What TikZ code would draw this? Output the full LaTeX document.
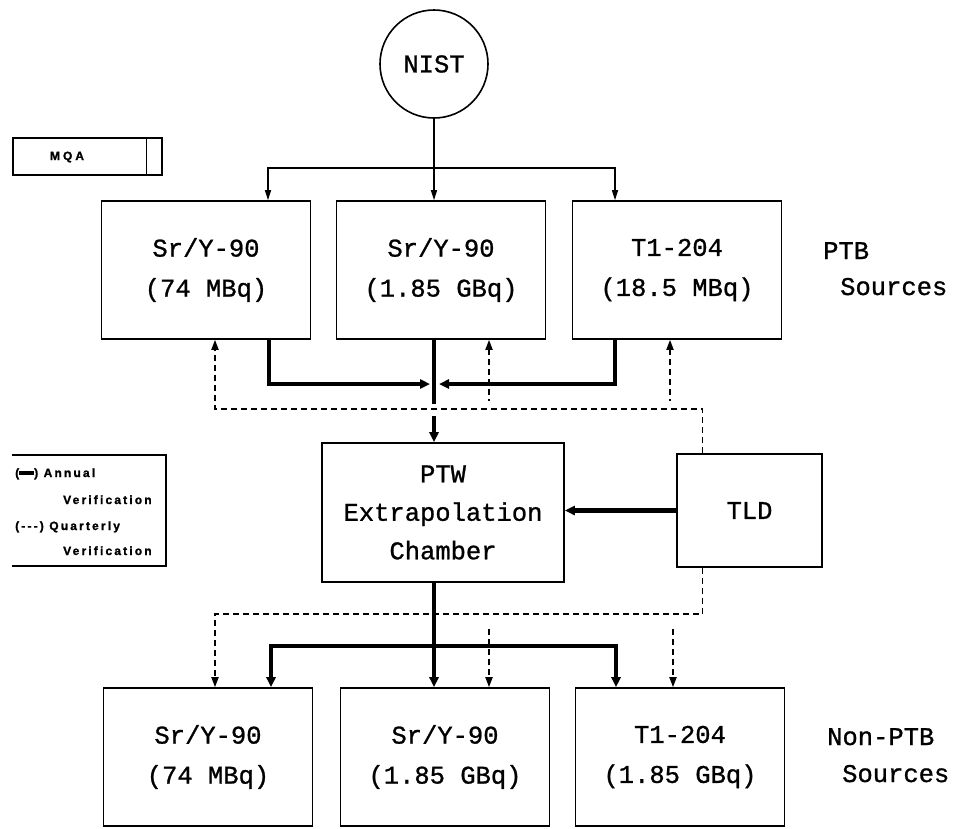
\documentclass[tikz,border=0pt]{standalone}
\usepackage{fontspec}
\newfontfamily\boxfont[FakeBold=1]{Liberation Mono}
\newfontfamily\keyfont[LetterSpace=18,FakeBold=1.5]{Liberation Sans}
\usetikzlibrary{arrows.meta,positioning}

\begin{document}
\begin{tikzpicture}[
    x=1pt, y=-1pt,
    srcbox/.style={
        draw=black,
        line width=1.6pt,
        minimum width=209pt,
        minimum height=138pt,
        align=center,
        font=\boxfont\fontsize{25.5}{40}\selectfont},
    sidelabel/.style={
        anchor=base west,
        inner sep=0pt,
        font=\boxfont\fontsize{25.5}{40}\selectfont},
    keytext/.style={
        anchor=base west,
        inner sep=0pt,
        font=\keyfont\bfseries\fontsize{12}{12}\selectfont},
    feed/.style={line width=1.3pt, >={Triangle[length=10pt,width=6pt]}},
    annual/.style={line width=4.2pt, >={Triangle[length=10pt,width=9pt]}},
    quarterly/.style={line width=1.8pt, dash pattern=on 6pt off 4pt,
        >={Triangle[length=10pt,width=7pt]}}
    ]
    \useasboundingbox (0,0) rectangle (957,828);

    \node[srcbox, circle, minimum size=108pt] (nist) at (434,64) {NIST};

    \foreach \n/\x/\y/\txt in {% name/x/y/text
        b1/206/270/{Sr/Y-90\\(74 MBq)},
        b2/441/270/{Sr/Y-90\\(1.85 GBq)},
        b3/677/270/{T1-204\\(18.5 MBq)},
        nb1/208/757/{Sr/Y-90\\(74 MBq)},
        nb2/445/757/{Sr/Y-90\\(1.85 GBq)},
        nb3/680/757/{T1-204\\(1.85 GBq)}}
        \node[srcbox] (\n) at (\x,\y) {\txt};

    \node[srcbox, minimum width=242pt, minimum height=139pt,
        font=\boxfont\fontsize{25.5}{38.5}\selectfont] (ptw) at (443,512.5)
        {PTW\\Extrapolation\\Chamber};
    \node[srcbox, minimum width=145pt, minimum height=113pt] (tld) at (749.5,510.5) {TLD};

    \node[sidelabel] (ptb1) at (823,259) {PTB};
    \node[sidelabel] (ptb2) at (840,295) {Sources};
    \node[sidelabel] (non1) at (827,745) {Non-PTB};
    \node[sidelabel] (non2) at (842,782) {Sources};

    % MQA tag and key
    \node[draw, line width=1.4pt, minimum width=149pt, minimum height=37pt,
        inner sep=0pt] (mqa) at (87.5,156.5) {};
    \node[keytext, anchor=center] (mqatext) at (67,157) {M\hspace{3pt}Q\hspace{3pt}A};
    \draw[line width=1.4pt] ([xshift=-16pt]mqa.north east) -- ([xshift=-16pt]mqa.south east);

    \draw[line width=1.4pt] (12,455) -- (166,455) -- (166,566) -- (12,566);
    \node[keytext] (key1) at (15,477) {(\rule[2pt]{15pt}{4pt}) Annual};
    \node[keytext] (key2) at (63,504) {Verification};
    \node[keytext] (key3) at (15,530) {({-}{-}{-}) Quarterly};
    \node[keytext] (key4) at (63,555) {Verification};

    \coordinate (fork) at (434,168);
    \coordinate (join) at (434,384);
    \coordinate (tee) at (434,646);

    \draw[feed,->] (nist.south) -- (nist.south |- b2.north);
    \draw[feed,<->] ([xshift=62pt]b1.north) |- (fork) -| ([xshift=-62pt]b3.north);

    \draw[annual,->] ([xshift=63pt]b1.south) |- ([xshift=-4pt]join);
    \draw[annual,->] ([xshift=-62pt]b3.south) |- ([xshift=5pt]join);
    \draw[annual] (join |- b2.south) -- ++(0,64);
    \draw[annual,->] (join |- ptw.north) ++(0,-26) -- (join |- ptw.north);
    \draw[annual,->] (tld.west) -- (tld.west -| ptw.east);

    \draw[quarterly,->] ([xshift=-47pt]tld.north) -- ++(0,-44) -| ([xshift=9pt]b1.south);
    \draw[quarterly,<-] ([xshift=48pt]b2.south) -- ++(0,61);
    \draw[quarterly,<-] ([xshift=-7pt]b3.south) -- ++(0,61);

    \draw[quarterly,->] ([xshift=-47pt]tld.south) -- ++(0,46) -| ([xshift=7pt]nb1.north);
    \draw[quarterly,->] ([xshift=44pt]nb2.north) ++(0,-58) -- ([xshift=44pt]nb2.north);
    \draw[quarterly,->] ([xshift=-7pt]nb3.north) ++(0,-58) -- ([xshift=-7pt]nb3.north);

    \draw[annual,->] (join |- ptw.south) -- (join |- nb2.north);
    \draw[annual,<->] ([xshift=63pt]nb1.north) |- (tee) -| ([xshift=-64pt]nb3.north);
\end{tikzpicture}
\end{document}
